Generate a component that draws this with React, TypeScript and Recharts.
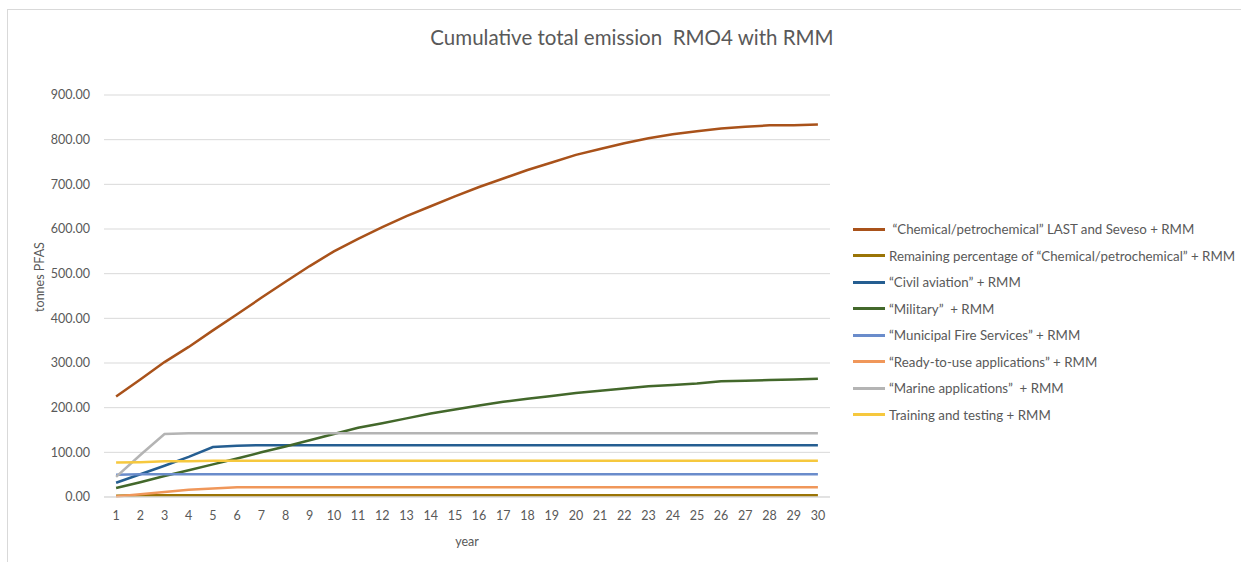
import React from 'react';
import { LineChart, Line, XAxis, YAxis, CartesianGrid } from 'recharts';

const years = [1,2,3,4,5,6,7,8,9,10,11,12,13,14,15,16,17,18,19,20,21,22,23,24,25,26,27,28,29,30];

const chemical = [225,263,302,336,373,409,446,482,517,550,578,604,629,651,673,694,713,732,749,766,779,792,803,812,819,825,829,832,832,834];
const remaining = [3,4,4,4,4,4,4,4,4,4,4,4,4,4,4,4,4,4,4,4,4,4,4,4,4,4,4,4,4,4];
const civil = [32,51,70,90,112,115,116,116,116,116,116,116,116,116,116,116,116,116,116,116,116,116,116,116,116,116,116,116,116,116];
const military = [20,33,47,60,73,86,100,113,127,141,155,165,176,187,196,205,213,220,226,233,238,243,248,251,254,259,260,262,263,265];
const municipal = [50,51,51,51,51,51,51,51,51,51,51,51,51,51,51,51,51,51,51,51,51,51,51,51,51,51,51,51,51,51];
const ready = [1,6,11,16,19,22,22,22,22,22,22,22,22,22,22,22,22,22,22,22,22,22,22,22,22,22,22,22,22,22];
const marine = [45,94,141,143,143,143,143,143,143,143,143,143,143,143,143,143,143,143,143,143,143,143,143,143,143,143,143,143,143,143];
const training = [77,78,80,80,81,81,81,81,81,81,81,81,81,81,81,81,81,81,81,81,81,81,81,81,81,81,81,81,81,81];

const yTicks = [0,100,200,300,400,500,600,700,800,900];

const seriesNames = [
  ' \u201CChemical/petrochemical\u201D LAST and Seveso + RMM',
  'Remaining percentage of \u201CChemical/petrochemical\u201D + RMM',
  '\u201CCivil aviation\u201D + RMM',
  '\u201CMilitary\u201D  + RMM',
  '\u201CMunicipal Fire Services\u201D + RMM',
  '\u201CReady-to-use applications\u201D + RMM',
  '\u201CMarine applications\u201D  + RMM',
  'Training and testing + RMM',
];
const seriesKeys = ['chemical','remaining','civil','military','municipal','ready','marine','training'];
const seriesColors = ['#A9521A','#9A7406','#255E91','#43682B','#6A8CCB','#F0975A','#B4B4B4','#F6C83E'];
const seriesValues = [chemical, remaining, civil, military, municipal, ready, marine, training];

const data = years.map((y, i) => {
  const row: any = { year: y };
  seriesKeys.forEach((k, j) => { row[k] = seriesValues[j][i]; });
  return row;
});

const FONT = 'Lato, "Open Sans", sans-serif';
const TXT = '#595959';

const XLabel = (props: any) => {
  const vb = props.viewBox || { x: 0, y: 0, width: 0, height: 0 };
  return (
    <text x={vb.x + vb.width / 2} y={vb.y + 49} textAnchor="middle" fill={TXT} fontSize={12.5} fontFamily={FONT}>year</text>
  );
};

const YLabel = (props: any) => {
  const vb = props.viewBox || { x: 0, y: 0, width: 0, height: 0 };
  const cx = vb.x + 44;
  const cy = vb.y + vb.height / 2 - 19;
  return (
    <text x={cx} y={cy} transform={`rotate(-90, ${cx}, ${cy})`} textAnchor="middle" fill={TXT} fontSize={12.5} fontFamily={FONT}>tonnes PFAS</text>
  );
};

export default function App() {
  return (
    <div style={{ position: 'absolute', left: 0, top: 0, width: 1241, height: 562, overflow: 'hidden', background: '#fff' }}>
      <div style={{ position: 'absolute', left: 7, top: 9, width: 1300, height: 600, border: '1px solid #D9D9D9' }} />
      <div style={{ position: 'absolute', left: 332, top: 25, width: 600, textAlign: 'center', fontFamily: FONT, fontSize: 20.5, lineHeight: '24px', color: TXT, whiteSpace: 'pre' }}>
        Cumulative total emission  RMO4 with RMM
      </div>
      <div style={{ position: 'absolute', left: 0, top: 0 }}>
        <LineChart width={1241} height={562} data={data} margin={{ top: 95, right: 411, bottom: 20, left: 0 }}>
          <CartesianGrid vertical={false} stroke="#D9D9D9" strokeWidth={1} />
          <XAxis dataKey="year" type="category" scale="band" tickLine={false} tickSize={0} tickMargin={14}
            axisLine={{ stroke: '#D9D9D9' }} height={45} interval={0}
            tick={{ fill: TXT, fontSize: 12.5, fontFamily: FONT }}
            label={<XLabel />} />
          <YAxis type="number" domain={[0, 900]} ticks={yTicks} width={104} tickLine={false} tickSize={0} tickMargin={14}
            axisLine={false} tickFormatter={(v: number) => v.toFixed(2)}
            tick={{ fill: TXT, fontSize: 12.5, fontFamily: FONT }}
            label={<YLabel />} />
          {seriesKeys.map((k, j) => (
            <Line key={k} dataKey={k} name={seriesNames[j]} stroke={seriesColors[j]} strokeWidth={2.5}
              dot={false} activeDot={false} isAnimationActive={false} type="linear" />
          ))}
        </LineChart>
      </div>
      <div style={{ position: 'absolute', left: 853, top: 215.75, fontFamily: FONT, fontSize: 13.3, color: TXT }}>
        {seriesNames.map((name, i) => (
          <div key={i} style={{ height: 26.5, display: 'flex', alignItems: 'center', whiteSpace: 'pre' }}>
            <div style={{ width: 32, height: 3, background: seriesColors[i], marginRight: 4 }} />
            <span>{name}</span>
          </div>
        ))}
      </div>
    </div>
  );
}
